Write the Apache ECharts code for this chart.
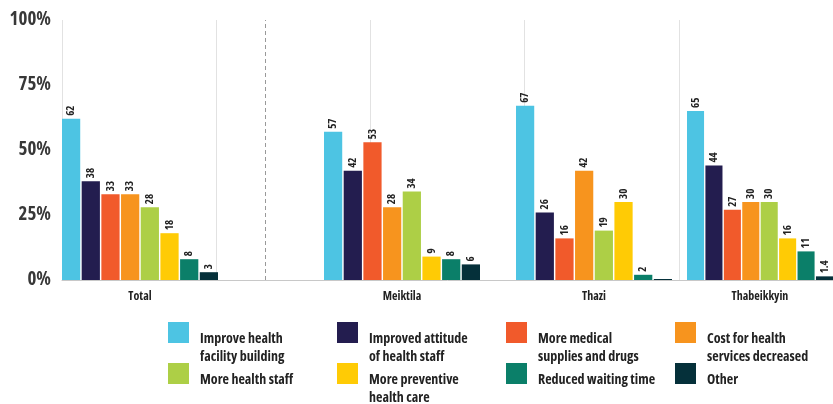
<!DOCTYPE html>
<html>
<head>
<meta charset="utf-8">
<script src="https://cdn.jsdelivr.net/npm/echarts@6/dist/echarts.min.js"></script>
<style>
  html, body { margin: 0; padding: 0; background: #fff; }
  #chart { width: 833px; height: 404px; }
</style>
</head>
<body>
<div id="chart"></div>
<script>
// ---- data ----
const categories = ['Total', 'Meiktila', 'Thazi', 'Thabeikkyin'];
const seriesNames = [
  'Improve health facility building',
  'Improved attitude of health staff',
  'More medical supplies and drugs',
  'Cost for health services decreased',
  'More health staff',
  'More preventive health care',
  'Reduced waiting time',
  'Other'
];
const legendLines = [
  ['Improve health', 'facility building'],
  ['Improved attitude', 'of health staff'],
  ['More medical', 'supplies and drugs'],
  ['Cost for health', 'services decreased'],
  ['More health staff'],
  ['More preventive', 'health care'],
  ['Reduced waiting time'],
  ['Other']
];
const improveFacility   = [62, 57, 67, 65];
const improvedAttitude  = [38, 42, 26, 44];
const moreSupplies      = [33, 53, 16, 27];
const costDecreased     = [33, 28, 42, 30];
const moreStaff         = [28, 34, 19, 30];
const morePreventive    = [18, 9, 30, 16];
const reducedWaiting    = [8, 8, 2, 11];
const other             = [3, 6, 0, 1.4];
const seriesValues = [improveFacility, improvedAttitude, moreSupplies, costDecreased,
                      moreStaff, morePreventive, reducedWaiting, other];
const yTicks = [0, 25, 50, 75, 100];

// ---- styles ----
const colors = ['#4DC4E3', '#231D4F', '#F15A2B', '#F7941E', '#ADCF46', '#FFCB05', '#0B7F69', '#05303A'];
const FONT = "'Open Sans', 'Roboto Condensed', sans-serif";
const WEIGHT = 'bold condensed';
const groupLefts = [62, 324, 516, 687];
const groupWidth = 156;
const separatorPos = 1.315; // dashed separator, in background band units

const grids = [{ left: 62, top: 20, width: 783, height: 260 }];
groupLefts.forEach(l => grids.push({ left: l, top: 20, width: groupWidth, height: 260 }));

const xAxes = [{
  gridIndex: 0, type: 'value', min: 0, max: 5, interval: 1,
  axisLabel: { show: false }, axisTick: { show: false },
  axisLine: { show: true, lineStyle: { color: '#c8c8c8', width: 1 } },
  splitLine: { show: true, lineStyle: { color: '#e2e2e2', width: 1 } }
}];
const yAxes = [{
  gridIndex: 0, type: 'value', min: yTicks[0], max: yTicks[yTicks.length - 1], interval: yTicks[1] - yTicks[0],
  axisLine: { show: false }, axisTick: { show: false }, splitLine: { show: false },
  axisLabel: { formatter: '{value}%', fontFamily: FONT, fontWeight: WEIGHT, fontSize: 19, color: '#383838', margin: 11 }
}];
categories.forEach((c, i) => {
  xAxes.push({
    gridIndex: i + 1, type: 'category', data: [c],
    axisLine: { show: false }, axisTick: { show: false }, splitLine: { show: false },
    axisLabel: { fontFamily: FONT, fontWeight: WEIGHT, fontSize: 12, color: '#222', margin: 11 }
  });
  yAxes.push({ gridIndex: i + 1, type: 'value', min: 0, max: 100, show: false });
});

const series = [{
  type: 'line', xAxisIndex: 0, yAxisIndex: 0, data: [], silent: true,
  markLine: {
    silent: true, symbol: ['none', 'none'], label: { show: false },
    lineStyle: { type: [4, 3], color: '#999', width: 1 },
    data: [[{ coord: [separatorPos, 0] }, { coord: [separatorPos, 100] }]]
  }
}];
categories.forEach((c, g) => {
  seriesNames.forEach((name, s) => {
    series.push({
      type: 'bar', name: name, xAxisIndex: g + 1, yAxisIndex: g + 1,
      data: [seriesValues[s][g]],
      itemStyle: { color: colors[s] },
      barGap: '8%', barCategoryGap: '0%',
      barMinHeight: s === 7 ? 1 : 0,
      label: {
        show: true, position: 'top', rotate: 90, align: 'left', verticalAlign: 'middle',
        distance: 3, fontFamily: FONT, fontWeight: WEIGHT, fontSize: 11, color: '#222',
        formatter: p => (p.value === 0 ? '' : String(p.value))
      }
    });
  });
});

function buildLegend(names, top) {
  return {
    data: names.map(n => ({ name: n, icon: 'rect' })),
    left: 168, top: top, width: 670, orient: 'horizontal', padding: 0,
    itemWidth: 21, itemHeight: 21, itemGap: 12,
    formatter: function (name) {
      const lines = legendLines[seriesNames.indexOf(name)];
      const sp = lines.length === 1 ? 's1' : 's2';
      return '{' + sp + '| }\n' + lines.map(l => '{t|' + l + '}').join('\n');
    },
    textStyle: {
      rich: {
        s1: { lineHeight: 13, fontSize: 1 },
        s2: { lineHeight: 31, fontSize: 1 },
        t: { fontFamily: FONT, fontWeight: WEIGHT, fontSize: 14, color: '#222', lineHeight: 18, width: 125, padding: [0, 0, 0, 6] }
      }
    }
  };
}

const chart = echarts.init(document.getElementById('chart'), null, { renderer: 'canvas' });
chart.setOption({
  animation: false,
  backgroundColor: '#ffffff',
  grid: grids,
  xAxis: xAxes,
  yAxis: yAxes,
  legend: [buildLegend(seriesNames.slice(0, 4), 314), buildLegend(seriesNames.slice(4), 355)],
  series: series
});
</script>
</body>
</html>
